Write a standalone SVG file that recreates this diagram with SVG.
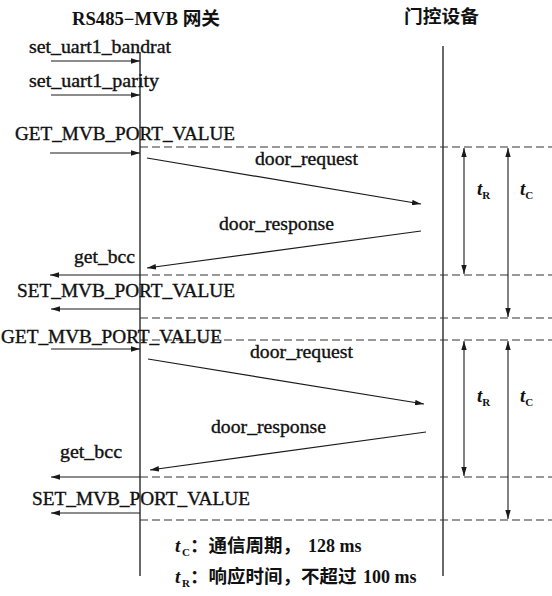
<svg xmlns="http://www.w3.org/2000/svg" width="552" height="596" viewBox="0 0 552 596">
<style>
.bg{fill:#ffffff}
.life{stroke:#1a1a1a;stroke-width:1.3;fill:none}
.msg{stroke:#1a1a1a;stroke-width:1.2;fill:none;marker-end:url(#ah)}
.dash{stroke:#333;stroke-width:1.1;stroke-dasharray:8 4;fill:none}
.dim{stroke:#1a1a1a;stroke-width:1.1;fill:none;marker-start:url(#ah);marker-end:url(#ah)}
.lbl{font-family:"Liberation Serif","Times New Roman",serif;font-size:18px;fill:#111;stroke:#111;stroke-width:0.35}
.ttl{font-family:"Liberation Serif","Noto Sans CJK SC",serif;font-size:18px;font-weight:bold;fill:#111}
.cjk{font-family:"Noto Sans CJK SC",sans-serif;font-weight:bold}
.t{font-family:"Liberation Serif",serif;font-style:italic;font-weight:bold;font-size:19px}
.sub{font-family:"Liberation Serif",serif;font-size:11px;font-weight:bold}
.num{font-family:"Liberation Serif",serif;font-size:18px;font-weight:bold}
</style>
<defs>
<marker id="ah" viewBox="0 0 10 6" refX="10" refY="3" markerWidth="9" markerHeight="5.5" markerUnits="userSpaceOnUse" orient="auto-start-reverse">
<path d="M0,0 L10,3 L0,6 Z" fill="#1a1a1a"/>
</marker>
</defs>
<rect class="bg" x="0" y="0" width="552" height="596"/>

<g id="gateway">
<text class="ttl" x="72" y="25" textLength="148" lengthAdjust="spacingAndGlyphs">RS485−MVB <tspan class="cjk">网关</tspan></text>
<line class="life" x1="140" y1="52" x2="140" y2="576"/>
</g>
<g id="door">
<text class="ttl cjk" x="404" y="23" textLength="75" lengthAdjust="spacingAndGlyphs">门控设备</text>
<line class="life" x1="443" y1="46" x2="443" y2="576"/>
</g>

<g id="connectors">
<line class="dash" x1="140" y1="147" x2="552" y2="147"/>
<line class="dash" x1="140" y1="275" x2="552" y2="275"/>
<line class="dash" x1="140" y1="318" x2="552" y2="318"/>
<line class="dash" x1="140" y1="340" x2="552" y2="340"/>
<line class="dash" x1="140" y1="477" x2="552" y2="477"/>
<line class="dash" x1="140" y1="520" x2="552" y2="520"/>

<line class="msg" x1="51" y1="61" x2="140" y2="61"/>
<line class="msg" x1="51" y1="95" x2="140" y2="95"/>
<line class="msg" x1="50" y1="153" x2="140" y2="153"/>
<line class="msg" x1="147" y1="158" x2="421" y2="204"/>
<line class="msg" x1="421" y1="231" x2="147" y2="268"/>
<line class="msg" x1="140" y1="275" x2="50" y2="275"/>
<line class="msg" x1="140" y1="309" x2="51" y2="309"/>

<line class="msg" x1="51" y1="349" x2="140" y2="349"/>
<line class="msg" x1="148" y1="359" x2="424" y2="404"/>
<line class="msg" x1="426" y1="432" x2="150" y2="470"/>
<line class="msg" x1="140" y1="477" x2="51" y2="477"/>
<line class="msg" x1="140" y1="513" x2="51" y2="513"/>

<line class="dim" x1="464" y1="148" x2="464" y2="274"/>
<line class="dim" x1="508" y1="148" x2="508" y2="317"/>
<line class="dim" x1="464" y1="341" x2="464" y2="476"/>
<line class="dim" x1="508" y1="341" x2="508" y2="519"/>
</g>

<g id="labels">
<text class="lbl" x="29" y="53" textLength="142" lengthAdjust="spacingAndGlyphs">set_uart1_bandrat</text>
<text class="lbl" x="29" y="87" textLength="130" lengthAdjust="spacingAndGlyphs">set_uart1_parity</text>
<text class="lbl" x="15" y="140" textLength="220" lengthAdjust="spacingAndGlyphs">GET_MVB_PORT_VALUE</text>
<text class="lbl" x="255" y="165" textLength="103" lengthAdjust="spacingAndGlyphs">door_request</text>
<text class="lbl" x="219" y="230" textLength="115" lengthAdjust="spacingAndGlyphs">door_response</text>
<text class="lbl" x="74" y="263" textLength="61" lengthAdjust="spacingAndGlyphs">get_bcc</text>
<text class="lbl" x="17" y="297" textLength="218" lengthAdjust="spacingAndGlyphs">SET_MVB_PORT_VALUE</text>

<text class="lbl" x="1" y="343" textLength="221" lengthAdjust="spacingAndGlyphs">GET_MVB_PORT_VALUE</text>
<text class="lbl" x="250" y="358" textLength="103" lengthAdjust="spacingAndGlyphs">door_request</text>
<text class="lbl" x="211" y="433" textLength="115" lengthAdjust="spacingAndGlyphs">door_response</text>
<text class="lbl" x="60" y="458" textLength="62" lengthAdjust="spacingAndGlyphs">get_bcc</text>
<text class="lbl" x="32" y="505" textLength="218" lengthAdjust="spacingAndGlyphs">SET_MVB_PORT_VALUE</text>

<text x="477" y="195" fill="#111"><tspan class="t">t</tspan><tspan class="sub" dy="4">R</tspan></text>
<text x="520" y="195" fill="#111"><tspan class="t">t</tspan><tspan class="sub" dy="4">C</tspan></text>
<text x="477" y="402" fill="#111"><tspan class="t">t</tspan><tspan class="sub" dy="4">R</tspan></text>
<text x="520" y="402" fill="#111"><tspan class="t">t</tspan><tspan class="sub" dy="4">C</tspan></text>
</g>

<g id="legend" fill="#111">
<text y="552"><tspan class="t" x="175">t</tspan><tspan class="sub" x="182" dy="4">C</tspan><tspan class="cjk" x="190" dy="-4" font-size="18.5">：通信周期，</tspan><tspan class="num" x="308">128 ms</tspan></text>
<text y="583"><tspan class="t" x="175">t</tspan><tspan class="sub" x="182" dy="4">R</tspan><tspan class="cjk" x="190" dy="-4" font-size="18.5">：响应时间，不超过</tspan><tspan class="num" x="363">100 ms</tspan></text>
</g>
</svg>
